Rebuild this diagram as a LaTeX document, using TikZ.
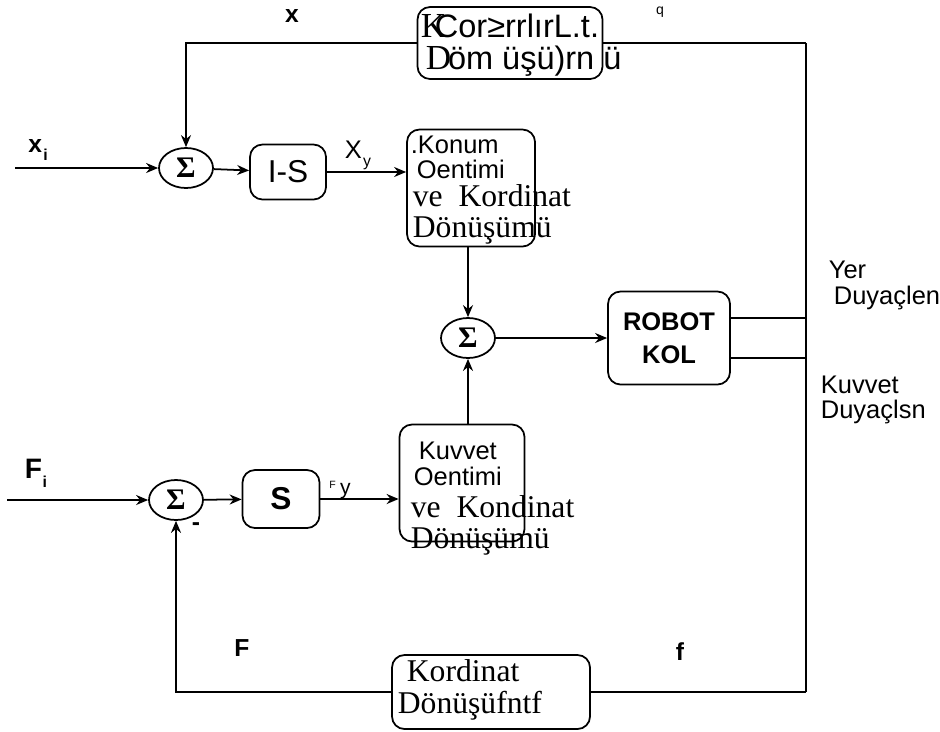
\documentclass[tikz,border=0pt]{standalone}
\usepackage{fontspec}
\setmainfont{Liberation Serif}
\setsansfont{Liberation Sans}
\usetikzlibrary{positioning,arrows.meta,shapes.geometric}

\begin{document}
\begin{tikzpicture}[x=0.2mm, y=-0.2mm, line width=1pt,
  sum/.style={draw, ellipse, minimum width=10.8mm, minimum height=8mm, inner sep=0pt, font=\rmfamily\bfseries\fontsize{17}{17}\selectfont},
  blk/.style={draw, rounded corners=2.5mm, inner sep=0pt},
  sans/.style={font=\sffamily\fontsize{14.5}{16}\selectfont, inner sep=0pt},
  topt/.style={font=\sffamily\fontsize{18.5}{18}\selectfont, inner sep=0pt},
  serif/.style={font=\rmfamily\fontsize{18}{19}\selectfont, inner sep=0pt},
  hand/.style={font=\sffamily\bfseries\fontsize{14}{16}\selectfont, inner sep=0pt},
  flow/.style={-{Stealth[length=2.4mm,width=2mm]}}]
\useasboundingbox (0,0) rectangle (940,731);
\node[sum] (s1) at (186,168) {Σ};
\node[blk, minimum width=15.2mm, minimum height=11mm, font=\sffamily\fontsize{18}{18}\selectfont] (is) at (288,172) {I-S};
\node[blk, minimum width=25.6mm, minimum height=23.4mm] (konum) at (471,188) {};
\node[sum] (s2) at (468,338) {Σ};
\node[blk, minimum width=24.4mm, minimum height=18.6mm, align=center, font=\sffamily\bfseries\fontsize{14.5}{19}\selectfont] (robot) at (669,338) {ROBOT\\KOL};
\node[blk, minimum width=25mm, minimum height=23.4mm] (kuvvet) at (462,483) {};
\node[sum] (s3) at (176,500) {Σ};
\node[blk, minimum width=15.4mm, minimum height=11.6mm, font=\sffamily\bfseries\fontsize{18}{18}\selectfont] (sb) at (281,499) {S};
\node[blk, minimum width=37mm, minimum height=14.4mm] (top) at (510,43) {};
\node[blk, minimum width=39.6mm, minimum height=14.8mm] (bot) at (491,692) {};
\coordinate (rtop) at (806,43);
\coordinate (rbot) at (806,692);
\coordinate (ry) at (806,318);
\coordinate (rf) at (806,358);
\coordinate (xin) at (15,168);
\coordinate (fin) at (7,500);

\node[topt, anchor=west] (t1) at (420,26) {{\rmfamily\fontsize{20}{20}\selectfont K}\kern-0.35em Cor≥rrlırL.t.};
\node[sans, font=\sffamily\fontsize{8}{8}\selectfont] (tq) at (660,12) {q};
\node[topt, anchor=west] (t2) at (425,61) {{\rmfamily\fontsize{20}{20}\selectfont D}\kern-0.1em öm üşü)rn ü};
\node[sans, anchor=west] (k1) at (410,145) {.Konum};
\node[sans, anchor=west] (k2) at (416,169) {Oentimi};
\node[serif, anchor=west] (k3) at (412,196) {ve\ \ Kordinat};
\node[serif, anchor=west] (k4) at (412,231) {Dönüşümü};
\node[sans, anchor=west] (v1) at (418,451) {Kuvvet};
\node[sans, anchor=west] (v2) at (413,476) {Oentimi};
\node[serif, anchor=west] (v3) at (410,507) {ve\ \ Kondinat};
\node[serif, anchor=west] (v4) at (410,541) {Dönüşümü};
\node[serif, anchor=west] (b1) at (406,671) {Kordinat};
\node[serif, anchor=west] (b2) at (397,706) {Dönüşüfntf};
\node[sans, anchor=west] (yer1) at (828,270) {Yer};
\node[sans, anchor=west] (yer2) at (833,298) {Duyaçlen};
\node[sans, anchor=west] (kd1) at (820,385) {Kuvvet};
\node[sans, anchor=west] (kd2) at (820,412) {Duyaçlsn};

\node[hand] (lx) at (292,16) {x};
\node[hand] (lxi) at (38,150) {x\kern0.05em\raisebox{-0.6ex}{\fontsize{9}{9}\selectfont i}};
\node[sans] (lxy) at (358,155) {X\kern0.05em\raisebox{-0.6ex}{\fontsize{9}{9}\selectfont y}};
\node[hand, font=\sffamily\bfseries\fontsize{16}{16}\selectfont] (lfi) at (36,473) {F\kern0.02em\raisebox{-0.6ex}{\fontsize{9}{9}\selectfont i}};
\node[sans, font=\sffamily\fontsize{12}{12}\selectfont] (lfy) at (340,490) {\raisebox{0.6ex}{\fontsize{6}{6}\selectfont F}\kern0.2em y};
\node[hand] (lmin) at (196,527) {-};
\node[hand] (lf) at (242,648) {F};
\node[hand] (lff) at (680,652) {f};

\draw[flow] (xin) -- (s1.west);
\draw[flow] (s1) -- (is);
\draw[flow] (is.east) -- (is.east -| konum.west);
\draw[flow] (konum.south -| s2) -- (s2.north);
\draw[flow] (s2) -- (robot);
\draw[flow] (kuvvet.north -| s2) -- (s2.south);
\draw[flow] (fin) -- (s3.west);
\draw[flow] (s3) -- (sb);
\draw[flow] (sb.east) -- (sb.east -| kuvvet.west);
\draw (robot.east |- ry) -- (ry);
\draw (robot.east |- rf) -- (rf);
\draw[line width=1.6pt] (rtop) -- (rbot);
\draw (rtop) -- (top.east);
\draw[flow] (top.west) -- (top.west -| s1) -- (s1.north);
\draw (rbot) -- (bot.east);
\draw[flow] (bot.west) -- (bot.west -| s3) -- (s3.south);
\end{tikzpicture}
\end{document}
